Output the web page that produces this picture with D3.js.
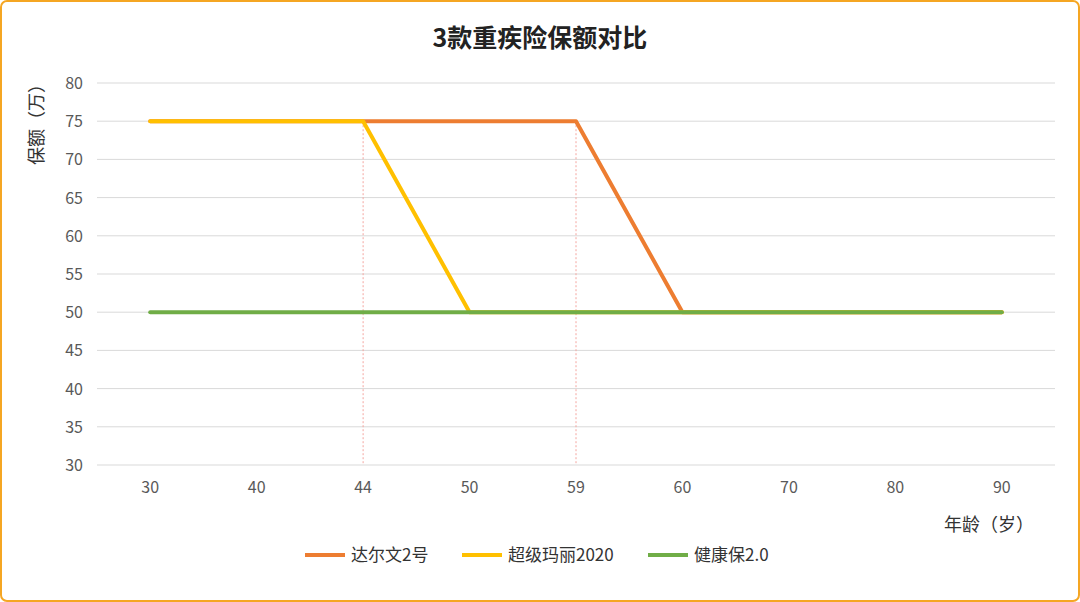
<!DOCTYPE html>
<html><head><meta charset="utf-8">
<script src="https://cdn.jsdelivr.net/npm/d3@7"></script>
<style>body{margin:0;background:#fff;font-family:"Noto Sans CJK SC","Noto Sans",sans-serif}</style>
</head><body>
<svg id="c" width="1080" height="602"></svg>
<script>
const ages = ["30", "40", "44", "50", "59", "60", "70", "80", "90"];
const darwin = [75, 75, 75, 75, 75, 50, 50, 50, 50];
const mary = [75, 75, 75, 50, 50, 50, 50, 50, 50];
const jiankang = [50, 50, 50, 50, 50, 50, 50, 50, 50];
const yTicks = [30, 35, 40, 45, 50, 55, 60, 65, 70, 75, 80];
const dropAges = ["44", "59"];

const series = [
  { name: "达尔文2号", values: darwin, color: "#ed7d31" },
  { name: "超级玛丽2020", values: mary, color: "#ffc000" },
  { name: "健康保2.0", values: jiankang, color: "#70ad47" },
];

const svg = d3.select("#c");
svg.append("rect").attr("x", 1).attr("y", 1).attr("width", 1078).attr("height", 600)
  .attr("rx", 6).attr("fill", "#fff").attr("stroke", "#f5a623").attr("stroke-width", 2);

const x = d3.scaleBand().domain(ages).range([97, 1055]);
const y = d3.scaleLinear().domain([30, 80]).range([465, 83]);
const cx = (a) => x(a) + x.bandwidth() / 2;

svg.selectAll(".grid").data(yTicks).enter().append("line")
  .attr("x1", 97).attr("x2", 1055)
  .attr("y1", (d) => y(d)).attr("y2", (d) => y(d))
  .attr("stroke", "#d9d9d9").attr("stroke-width", 1);

svg.selectAll(".yl").data(yTicks).enter().append("text")
  .attr("x", 83).attr("y", (d) => y(d) + 6).attr("text-anchor", "end")
  .attr("font-size", 16).attr("fill", "#595959").text((d) => d);

svg.selectAll(".xl").data(ages).enter().append("text")
  .attr("x", (d) => cx(d)).attr("y", 493).attr("text-anchor", "middle")
  .attr("font-size", 16).attr("fill", "#595959").text((d) => d);

dropAges.forEach((a) => {
  svg.append("line").attr("x1", cx(a)).attr("x2", cx(a))
    .attr("y1", y(75)).attr("y2", y(30))
    .attr("stroke", "#f4a6a0").attr("stroke-width", 1).attr("stroke-dasharray", "2,2");
});

const line = d3.line().x((d, i) => cx(ages[i])).y((d) => y(d));
series.forEach((s) => {
  svg.append("path").datum(s.values).attr("d", line)
    .attr("fill", "none").attr("stroke", s.color).attr("stroke-width", 4)
    .attr("stroke-linecap", "round").attr("stroke-linejoin", "round");
});

svg.append("text").attr("x", 540).attr("y", 47).attr("text-anchor", "middle")
  .attr("font-size", 25).attr("font-weight", "bold").attr("fill", "#222").text("3款重疾险保额对比");

svg.append("text").attr("transform", "translate(43,120) rotate(-90)")
  .attr("text-anchor", "middle").attr("font-size", 18).attr("fill", "#333").text("保额（万）");

svg.append("text").attr("x", 1034).attr("y", 531).attr("text-anchor", "end")
  .attr("font-size", 18).attr("fill", "#333").text("年龄（岁）");

const lx = [305, 462, 648];
series.forEach((s, i) => {
  const g = svg.append("g").attr("transform", `translate(${lx[i]},555)`);
  g.append("line").attr("x1", 0).attr("x2", 40).attr("stroke", s.color).attr("stroke-width", 4);
  g.append("text").attr("x", 46).attr("y", 6).attr("font-size", 17).attr("fill", "#333").text(s.name);
});
</script>
</body></html>
